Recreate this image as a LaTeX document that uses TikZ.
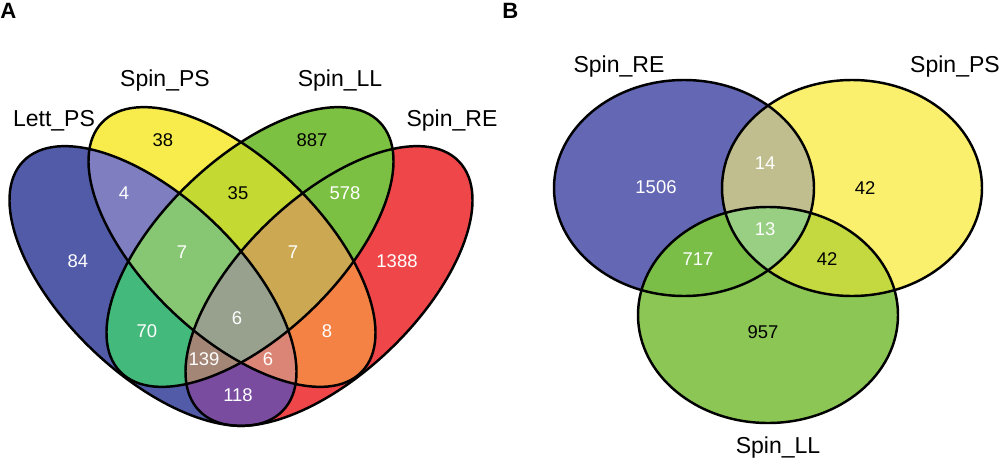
\documentclass[tikz,border=0pt]{standalone}
\usepackage{fontspec}
\setmainfont{Liberation Sans}

% colours of panel A
\definecolor{cLP}{RGB}{82,91,168}
\definecolor{cSPS}{RGB}{247,236,75}
\definecolor{cSLL}{RGB}{125,193,66}
\definecolor{cSRE}{RGB}{238,70,73}
\definecolor{cLPSPS}{RGB}{126,126,192}
\definecolor{cLPSLL}{RGB}{68,185,124}
\definecolor{cLPSRE}{RGB}{122,76,160}
\definecolor{cSPSSLL}{RGB}{196,217,50}
\definecolor{cSPSSRE}{RGB}{244,130,68}
\definecolor{cSLLSRE}{RGB}{123,192,67}
\definecolor{cLPSPSSLL}{RGB}{135,199,115}
\definecolor{cLPSPSSRE}{RGB}{218,133,118}
\definecolor{cLPSLLSRE}{RGB}{164,134,118}
\definecolor{cSPSSLLSRE}{RGB}{204,168,82}
\definecolor{cAll}{RGB}{152,161,141}
% colours of panel B
\definecolor{cRE}{RGB}{100,104,180}
\definecolor{cPS}{RGB}{250,240,110}
\definecolor{cLL}{RGB}{140,199,86}
\definecolor{cREPS}{RGB}{192,190,142}
\definecolor{cRELL}{RGB}{122,190,72}
\definecolor{cPSLL}{RGB}{196,217,64}
\definecolor{cREPSLL}{RGB}{152,207,130}

\newcommand{\clipLP}{\clip (LP) circle[ellL];}
\newcommand{\clipSPS}{\clip (SPS) circle[ellL];}
\newcommand{\clipSLL}{\clip (SLL) circle[ellR];}
\newcommand{\clipSRE}{\clip (SRE) circle[ellR];}
\newcommand{\clipRE}{\clip (RE) circle[ovalB];}
\newcommand{\clipPS}{\clip (PS) circle[ovalB];}
\newcommand{\clipLL}{\clip (LL) circle[ovalB];}
\newcommand{\regfill}[1]{\fill[#1] (0,0) rectangle (1000,461);}

\begin{document}
\begin{tikzpicture}[x=0.02cm, y=0.02cm]
\tikzset{
  ellL/.style={x radius=180, y radius=88, rotate=-43.8},
  ellR/.style={x radius=180, y radius=88, rotate=43.8},
  ovalB/.style={x radius=130, y radius=108},
  venn/.style={draw=black, line width=1.4pt},
  num/.style={font=\fontsize{10.5}{12}\selectfont, text=white},
  numd/.style={num, text=black},
  setlbl/.style={font=\fontsize{13.1}{15}\selectfont, anchor=base},
  panel/.style={font=\fontsize{12.6}{15}\selectfont\bfseries, anchor=base west, inner sep=0pt},
}
\useasboundingbox (0,0) rectangle (1000,461);

%%% Panel A

\coordinate (LP)  at (153,175);
\coordinate (SPS) at (232,214);
\coordinate (SLL) at (250,214);
\coordinate (SRE) at (329,175);

% one set
\begin{scope}\clipLP\regfill{cLP}\end{scope}
\begin{scope}\clipSPS\regfill{cSPS}\end{scope}
\begin{scope}\clipSLL\regfill{cSLL}\end{scope}
\begin{scope}\clipSRE\regfill{cSRE}\end{scope}
% two sets
\begin{scope}\clipLP\clipSPS\regfill{cLPSPS}\end{scope}
\begin{scope}\clipLP\clipSLL\regfill{cLPSLL}\end{scope}
\begin{scope}\clipLP\clipSRE\regfill{cLPSRE}\end{scope}
\begin{scope}\clipSPS\clipSLL\regfill{cSPSSLL}\end{scope}
\begin{scope}\clipSPS\clipSRE\regfill{cSPSSRE}\end{scope}
\begin{scope}\clipSLL\clipSRE\regfill{cSLLSRE}\end{scope}
% three sets
\begin{scope}\clipLP\clipSPS\clipSLL\regfill{cLPSPSSLL}\end{scope}
\begin{scope}\clipLP\clipSPS\clipSRE\regfill{cLPSPSSRE}\end{scope}
\begin{scope}\clipLP\clipSLL\clipSRE\regfill{cLPSLLSRE}\end{scope}
\begin{scope}\clipSPS\clipSLL\clipSRE\regfill{cSPSSLLSRE}\end{scope}
% four sets
\begin{scope}\clipLP\clipSPS\clipSLL\clipSRE\regfill{cAll}\end{scope}

% outlines
\draw[venn] (LP)  circle[ellL];
\draw[venn] (SPS) circle[ellL];
\draw[venn] (SLL) circle[ellR];
\draw[venn] (SRE) circle[ellR];

% counts
\node[numd] (a38)   at (163,321) {38};
\node[numd] (a887)  at (312,321) {887};
\node[num]  (a4)    at (124,268) {4};
\node[numd] (a35)   at (238,268) {35};
\node[num]  (a578)  at (345,268) {578};
\node[num]  (a84)   at (78,200)  {84};
\node[num]  (a7l)   at (182,209) {7};
\node[num]  (a7r)   at (293,209) {7};
\node[num]  (a1388) at (397,200) {1388};
\node[num]  (a6c)   at (237,143) {6};
\node[num]  (a70)   at (147,130) {70};
\node[num]  (a8)    at (327,130) {8};
\node[num]  (a139)  at (204,102) {139};
\node[num]  (a6s)   at (268,102) {6};
\node[num]  (a118)  at (238,66)  {118};

% set names
\node[setlbl] (lLP)  at (54,335)  {Lett\_PS};
\node[setlbl] (lSPS) at (165,375) {Spin\_PS};
\node[setlbl] (lSLL) at (340,375) {Spin\_LL};
\node[setlbl] (lSRE) at (452,335) {Spin\_RE};
\node[panel]  (pA)   at (0,443)   {A};

%%% Panel B

\coordinate (RE) at (684,273);
\coordinate (PS) at (852,273);
\coordinate (LL) at (768,146);

\begin{scope}\clipRE\regfill{cRE}\end{scope}
\begin{scope}\clipPS\regfill{cPS}\end{scope}
\begin{scope}\clipLL\regfill{cLL}\end{scope}
\begin{scope}\clipRE\clipPS\regfill{cREPS}\end{scope}
\begin{scope}\clipRE\clipLL\regfill{cRELL}\end{scope}
\begin{scope}\clipPS\clipLL\regfill{cPSLL}\end{scope}
\begin{scope}\clipRE\clipPS\clipLL\regfill{cREPSLL}\end{scope}

\draw[venn] (RE) circle[ovalB];
\draw[venn] (PS) circle[ovalB];
\draw[venn] (LL) circle[ovalB];

\node[num]  (b1506) at (656,274) {1506};
\node[num]  (b14)   at (765,298) {14};
\node[numd] (b42a)  at (865,273) {42};
\node[num]  (b13)   at (765,232) {13};
\node[num]  (b717)  at (698,202) {717};
\node[numd] (b42b)  at (827,202) {42};
\node[numd] (b957)  at (763,129) {957};

\node[setlbl] (lRE) at (619,389) {Spin\_RE};
\node[setlbl] (lPS) at (955,389) {Spin\_PS};
\node[setlbl] (lLL) at (778,8)   {Spin\_LL};
\node[panel]  (pB)  at (502,443) {B};

\end{tikzpicture}
\end{document}
